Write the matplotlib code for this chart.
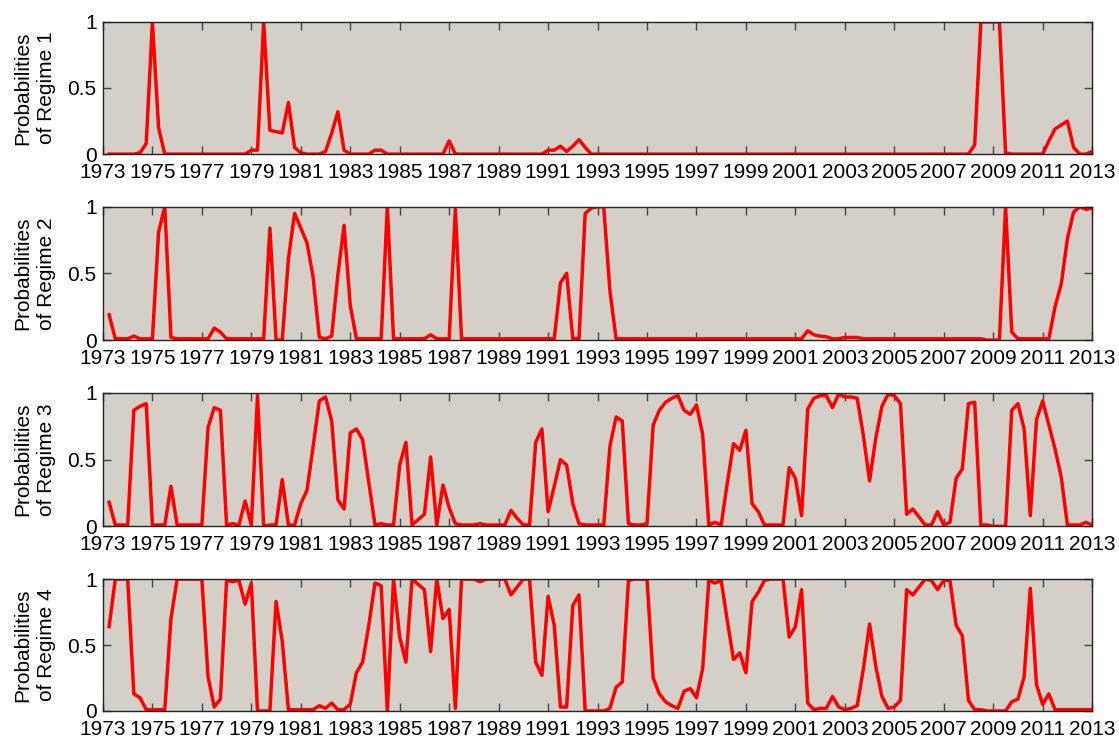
import numpy as np
import matplotlib.pyplot as plt

# quarterly smoothed probabilities, 1973Q2 .. 2013Q1 (160 quarters, 8 per row)
regime1 = [0, 0, 0, 0, 0, 0.01, 0.08, 1.0,
           0.2, 0, 0, 0, 0, 0, 0, 0,
           0, 0, 0, 0, 0, 0, 0, 0.03,
           0.03, 1.0, 0.18, 0.17, 0.16, 0.39, 0.05, 0.01,
           0, 0, 0, 0.02, 0.16, 0.32, 0.03, 0,
           0, 0, 0, 0.03, 0.03, 0, 0, 0,
           0, 0, 0, 0, 0, 0, 0, 0.1,
           0, 0, 0, 0, 0, 0, 0, 0,
           0, 0, 0, 0, 0, 0, 0, 0.03,
           0.03, 0.06, 0.02, 0.06, 0.11, 0.05, 0, 0,
           0, 0, 0, 0, 0, 0, 0, 0,
           0, 0, 0, 0, 0, 0, 0, 0,
           0, 0, 0, 0, 0, 0, 0, 0,
           0, 0, 0, 0, 0, 0, 0, 0,
           0, 0, 0, 0, 0, 0, 0, 0,
           0, 0, 0, 0, 0, 0, 0, 0,
           0, 0, 0, 0, 0, 0, 0, 0,
           0, 0, 0, 0, 0.07, 1.0, 1.0, 1.0,
           1.0, 0.01, 0, 0, 0, 0, 0, 0,
           0.1, 0.19, 0.22, 0.25, 0.05, 0, 0, 0.02]

regime2 = [0.19, 0.01, 0.01, 0.01, 0.03, 0.01, 0.01, 0.01,
           0.81, 1.0, 0.02, 0.01, 0.01, 0.01, 0.01, 0.01,
           0.01, 0.09, 0.06, 0.01, 0.01, 0.01, 0.01, 0.01,
           0.01, 0.01, 0.84, 0.0, 0.0, 0.61, 0.95, 0.84,
           0.73, 0.47, 0.02, 0.01, 0.03, 0.49, 0.86, 0.26,
           0.01, 0.01, 0.01, 0.01, 0.01, 1.0, 0.01, 0.01,
           0.01, 0.01, 0.01, 0.01, 0.04, 0.01, 0.01, 0.01,
           0.98, 0.01, 0.01, 0.01, 0.01, 0.01, 0.01, 0.01,
           0.01, 0.01, 0.01, 0.01, 0.01, 0.01, 0.01, 0.01,
           0.01, 0.43, 0.5, 0.01, 0.01, 0.95, 0.99, 1.0,
           1.0, 0.37, 0.01, 0.01, 0.01, 0.01, 0.01, 0.01,
           0.01, 0.01, 0.01, 0.01, 0.01, 0.01, 0.01, 0.01,
           0.01, 0.01, 0.01, 0.01, 0.01, 0.01, 0.01, 0.01,
           0.01, 0.01, 0.01, 0.01, 0.01, 0.01, 0.01, 0.01,
           0.01, 0.07, 0.04, 0.03, 0.025, 0.01, 0.01, 0.02,
           0.02, 0.02, 0.01, 0.01, 0.01, 0.01, 0.01, 0.01,
           0.01, 0.01, 0.01, 0.01, 0.01, 0.01, 0.01, 0.01,
           0.01, 0.01, 0.01, 0.01, 0.01, 0.01, 0.0, 0.0,
           0.0, 1.0, 0.06, 0.01, 0.01, 0.01, 0.01, 0.01,
           0.01, 0.25, 0.42, 0.76, 0.96, 1.0, 0.98, 0.99]

regime3 = [0.18, 0.01, 0.01, 0.01, 0.87, 0.9, 0.92, 0.01,
           0.01, 0.01, 0.3, 0.01, 0.01, 0.01, 0.01, 0.01,
           0.74, 0.89, 0.87, 0.01, 0.02, 0.01, 0.19, 0.01,
           0.98, 0.0, 0.01, 0.01, 0.35, 0.01, 0.01, 0.17,
           0.27, 0.6, 0.94, 0.97, 0.79, 0.2, 0.13, 0.7,
           0.73, 0.65, 0.33, 0.01, 0.02, 0.01, 0.01, 0.46,
           0.63, 0.01, 0.05, 0.09, 0.52, 0.01, 0.31, 0.14,
           0.02, 0.01, 0.01, 0.01, 0.02, 0.01, 0.01, 0.01,
           0.01, 0.12, 0.06, 0.01, 0.01, 0.63, 0.73, 0.11,
           0.3, 0.5, 0.46, 0.17, 0.02, 0.01, 0.01, 0.01,
           0.01, 0.6, 0.82, 0.79, 0.02, 0.01, 0.01, 0.02,
           0.76, 0.87, 0.93, 0.96, 0.98, 0.87, 0.84, 0.91,
           0.69, 0.01, 0.03, 0.01, 0.33, 0.62, 0.57, 0.72,
           0.17, 0.11, 0.01, 0.01, 0.01, 0.01, 0.44, 0.36,
           0.08, 0.88, 0.96, 0.98, 0.98, 0.89, 0.99, 0.97,
           0.97, 0.96, 0.68, 0.34, 0.66, 0.9, 0.99, 0.98,
           0.92, 0.09, 0.13, 0.07, 0.01, 0.01, 0.11, 0.01,
           0.03, 0.36, 0.43, 0.92, 0.93, 0.01, 0.01, 0.0,
           0.0, 0.0, 0.87, 0.92, 0.73, 0.08, 0.8, 0.94,
           0.76, 0.58, 0.37, 0.01, 0.01, 0.01, 0.03, 0.01]

regime4 = [0.64, 1.0, 1.0, 1.0, 0.13, 0.1, 0.01, 0.01,
           0.01, 0.01, 0.7, 1.0, 1.0, 1.0, 1.0, 1.0,
           0.26, 0.03, 0.09, 0.99, 0.98, 0.99, 0.81, 0.97,
           0.0, 0.0, 0.0, 0.83, 0.53, 0.01, 0.01, 0.01,
           0.01, 0.01, 0.04, 0.02, 0.06, 0.01, 0.01, 0.05,
           0.29, 0.37, 0.65, 0.97, 0.95, 0.0, 1.0, 0.56,
           0.37, 1.0, 0.96, 0.92, 0.45, 1.0, 0.7, 0.77,
           0.02, 1.0, 1.0, 1.0, 0.98, 1.0, 1.0, 1.0,
           1.0, 0.88, 0.94, 1.0, 1.0, 0.37, 0.27, 0.87,
           0.65, 0.03, 0.03, 0.8, 0.88, 0.0, 0.0, 0.0,
           0.0, 0.02, 0.18, 0.22, 0.99, 1.0, 1.0, 1.0,
           0.25, 0.13, 0.07, 0.04, 0.02, 0.15, 0.17, 0.1,
           0.32, 0.99, 0.97, 0.99, 0.68, 0.39, 0.44, 0.29,
           0.83, 0.9, 0.99, 1.0, 1.0, 1.0, 0.56, 0.64,
           0.92, 0.06, 0.01, 0.02, 0.02, 0.11, 0.03, 0.01,
           0.02, 0.04, 0.32, 0.66, 0.34, 0.11, 0.02, 0.03,
           0.08, 0.92, 0.88, 0.94, 1.0, 0.99, 0.92, 0.99,
           0.99, 0.65, 0.57, 0.08, 0.01, 0.01, 0.0, 0.0,
           0.0, 0.0, 0.07, 0.09, 0.26, 0.93, 0.2, 0.05,
           0.13, 0.01, 0.01, 0.01, 0.01, 0.01, 0.01, 0.01]

series = [regime1, regime2, regime3, regime4]
ylabels = ['Probabilities\nof Regime 1', 'Probabilities\nof Regime 2',
           'Probabilities\nof Regime 3', 'Probabilities\nof Regime 4']
year_ticks = list(range(1973, 2014, 2))
ytick_vals = [0, 0.5, 1]
ytick_labels = ['0', '0.5', '1']

dates = 1973 + np.arange(1, 161) / 4.0  # quarter end positions

plt.rcParams['font.family'] = ['Liberation Sans', 'DejaVu Sans']

fig = plt.figure(figsize=(11.19, 7.41), dpi=100)
bottoms = [0.792, 0.541, 0.2897, 0.0405]  # panel positions (figure fraction)
heights = [0.1785, 0.18, 0.18, 0.178]

for i in range(4):
    ax = fig.add_axes([0.092, bottoms[i], 0.884, heights[i]])
    ax.set_facecolor('#d4d0c8')
    ax.plot(dates, series[i], color='#ff0000', lw=2.5)
    ax.set_xlim(1973, 2013)
    ax.set_ylim(0, 1)
    ax.set_xticks(year_ticks)
    ax.set_xticklabels([str(y) for y in year_ticks])
    ax.set_yticks(ytick_vals)
    ax.set_yticklabels(ytick_labels)
    ax.tick_params(direction='in', length=6, width=1, color='#444444',
                   top=True, right=True, labelsize=15)
    ax.tick_params(axis='x', pad=6.5)
    ax.tick_params(axis='y', pad=4.5)
    ax.set_ylabel(ylabels[i], fontsize=15, labelpad=8, linespacing=1.35)
    for s in ax.spines.values():
        s.set_linewidth(1.0)
        s.set_color('#222222')

fig.savefig('out.png', dpi=100)
